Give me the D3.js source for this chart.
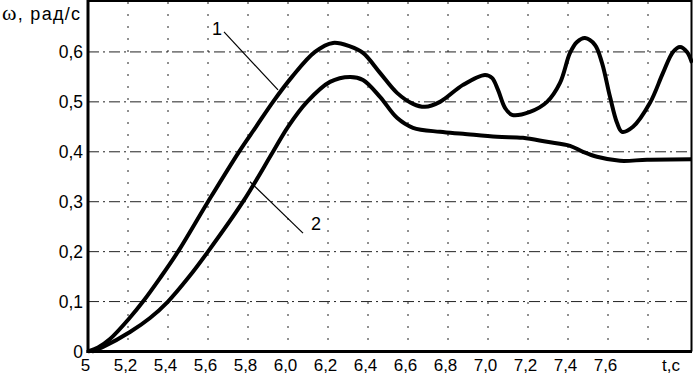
<!DOCTYPE html>
<html>
<head>
<meta charset="utf-8">
<script src="https://cdn.jsdelivr.net/npm/d3@7"></script>
<style>
	body { margin: 0; background: #fff; }
	svg { display: block; }
	text { font-family: "Liberation Sans", Arial, sans-serif; fill: #000; }
	.grid line { stroke: #222; stroke-width: 1; }
</style>
</head>
<body>
<script>
// curve 1 (upper)
var t1 = [5.0, 5.05, 5.11, 5.21, 5.275, 5.36, 5.45, 5.60, 5.755, 5.84, 5.925, 6.02, 6.135, 6.225, 6.31, 6.375, 6.46, 6.545, 6.625, 6.685, 6.76, 6.875, 6.985, 7.02, 7.05, 7.085, 7.12, 7.21, 7.295, 7.36, 7.41, 7.445, 7.485, 7.535, 7.57, 7.61, 7.645, 7.67, 7.725, 7.81, 7.875, 7.925, 7.96, 7.995, 8.02];
var w1 = [0.0, 0.008, 0.025, 0.068, 0.10, 0.147, 0.20, 0.30, 0.40, 0.45, 0.50, 0.55, 0.60, 0.618, 0.611, 0.598, 0.558, 0.518, 0.496, 0.49, 0.50, 0.534, 0.554, 0.548, 0.524, 0.488, 0.474, 0.48, 0.50, 0.538, 0.598, 0.62, 0.628, 0.614, 0.578, 0.51, 0.458, 0.44, 0.45, 0.498, 0.558, 0.60, 0.61, 0.60, 0.578];
// curve 2 (lower)
var t2 = [5.02, 5.075, 5.21, 5.31, 5.40, 5.50, 5.60, 5.775, 5.925, 6.0, 6.095, 6.21, 6.31, 6.375, 6.46, 6.545, 6.625, 6.76, 6.875, 7.045, 7.175, 7.295, 7.41, 7.475, 7.545, 7.66, 7.795, 8.02];
var w2 = [0.0, 0.009, 0.039, 0.067, 0.10, 0.147, 0.20, 0.30, 0.40, 0.45, 0.50, 0.54, 0.55, 0.544, 0.51, 0.468, 0.448, 0.44, 0.436, 0.43, 0.428, 0.42, 0.412, 0.40, 0.39, 0.382, 0.384, 0.385];

var xTicks = [5, 5.2, 5.4, 5.6, 5.8, 6.0, 6.2, 6.4, 6.6, 6.8, 7.0, 7.2, 7.4, 7.6];
var xGrid = [5.2, 5.4, 5.6, 5.8, 6.0, 6.2, 6.4, 6.6, 6.8, 7.0, 7.2, 7.4, 7.6, 7.8];
var yTicks = [0, 0.1, 0.2, 0.3, 0.4, 0.5, 0.6];

// curve labels: text position and leader line ends
var labels = ["1", "2"];
var labelAt = [[5.645, 0.634], [6.14, 0.243]];
var leaders = [[[5.68, 0.64], [5.95, 0.524]], [[5.81, 0.34], [6.075, 0.237]]];

var W = 693, H = 375;
var x = d3.scaleLinear().domain([5, 8.015]).range([88, 691]);
var y = d3.scaleLinear().domain([0, 0.7]).range([351.5, 2]);

var svg = d3.select("body").append("svg")
	.attr("width", W)
	.attr("height", H);

var fmt = function (d) { return d === 0 ? "0" : d.toFixed(1).replace(".", ","); };

// grid
var grid = svg.append("g").attr("class", "grid");
grid.selectAll("line.h")
	.data(yTicks.slice(1))
	.enter().append("line")
	.attr("class", "h")
	.attr("x1", x(5)).attr("x2", x(8.015))
	.attr("y1", function (d) { return y(d); })
	.attr("y2", function (d) { return y(d); })
	.attr("stroke-dasharray", "11,4,2,4");
grid.selectAll("line.v")
	.data(xGrid)
	.enter().append("line")
	.attr("class", "v")
	.attr("x1", function (d) { return x(d); })
	.attr("x2", function (d) { return x(d); })
	.attr("y1", y(0.7)).attr("y2", y(0))
	.attr("stroke", "#555")
	.attr("stroke-dasharray", "2,10");

// frame
svg.append("line").attr("x1", x(5)).attr("x2", x(5)).attr("y1", 0).attr("y2", y(0) + 1.5)
	.attr("stroke", "#000").attr("stroke-width", 3);
svg.append("line").attr("x1", x(5) - 1.5).attr("x2", 692).attr("y1", y(0)).attr("y2", y(0))
	.attr("stroke", "#000").attr("stroke-width", 3);
svg.append("line").attr("x1", x(5)).attr("x2", 692).attr("y1", 1).attr("y2", 1)
	.attr("stroke", "#000").attr("stroke-width", 2);
svg.append("line").attr("x1", 691.5).attr("x2", 691.5).attr("y1", 0).attr("y2", y(0))
	.attr("stroke", "#000").attr("stroke-width", 2);

// axes labels
var yAxis = d3.axisLeft(y).tickValues(yTicks).tickSize(0).tickPadding(5).tickFormat(fmt);
svg.append("g")
	.attr("transform", "translate(" + x(5) + ",0)")
	.call(yAxis)
	.call(function (g) { g.select(".domain").remove(); })
	.selectAll("text")
	.style("font-size", "17.5px")
	.attr("font-family", null);

var xAxis = d3.axisBottom(x).tickValues(xTicks).tickSize(0).tickPadding(8)
	.tickFormat(function (d) { return d === 5 ? "5" : d.toFixed(1).replace(".", ","); });
svg.append("g")
	.attr("transform", "translate(-3," + (y(0) - 1) + ")")
	.call(xAxis)
	.call(function (g) { g.select(".domain").remove(); })
	.selectAll("text")
	.style("font-size", "17px")
	.attr("font-family", null);

svg.append("text")
	.attr("x", 671).attr("y", 371)
	.attr("text-anchor", "middle")
	.style("font-size", "17px")
	.text("t,c");

var ttl = svg.append("text")
	.attr("x", 2).attr("y", 20)
	.attr("textLength", 78)
	.attr("lengthAdjust", "spacing")
	.style("font-size", "18px");
ttl.append("tspan")
	.style("font-family", "'Liberation Serif', serif")
	.style("font-size", "22px")
	.text("ω");
ttl.append("tspan").text(", рад/с");

// curves
var line = d3.line()
	.x(function (d) { return x(d[0]); })
	.y(function (d) { return y(d[1]); })
	.curve(d3.curveCatmullRom.alpha(0.5));

svg.append("path")
	.datum(d3.zip(t1, w1))
	.attr("fill", "none")
	.attr("stroke", "#000")
	.attr("stroke-width", 4)
	.attr("d", line);

svg.append("path")
	.datum(d3.zip(t2, w2))
	.attr("fill", "none")
	.attr("stroke", "#000")
	.attr("stroke-width", 4)
	.attr("d", line);

// curve labels
svg.selectAll("line.leader")
	.data(leaders)
	.enter().append("line")
	.attr("class", "leader")
	.attr("x1", function (d) { return x(d[0][0]); })
	.attr("y1", function (d) { return y(d[0][1]); })
	.attr("x2", function (d) { return x(d[1][0]); })
	.attr("y2", function (d) { return y(d[1][1]); })
	.attr("stroke", "#000")
	.attr("stroke-width", 1.2);

svg.selectAll("text.lbl")
	.data(labels)
	.enter().append("text")
	.attr("class", "lbl")
	.attr("x", function (d, i) { return x(labelAt[i][0]); })
	.attr("y", function (d, i) { return y(labelAt[i][1]); })
	.attr("text-anchor", "middle")
	.style("font-size", "18px")
	.text(function (d) { return d; });
</script>
</body>
</html>
